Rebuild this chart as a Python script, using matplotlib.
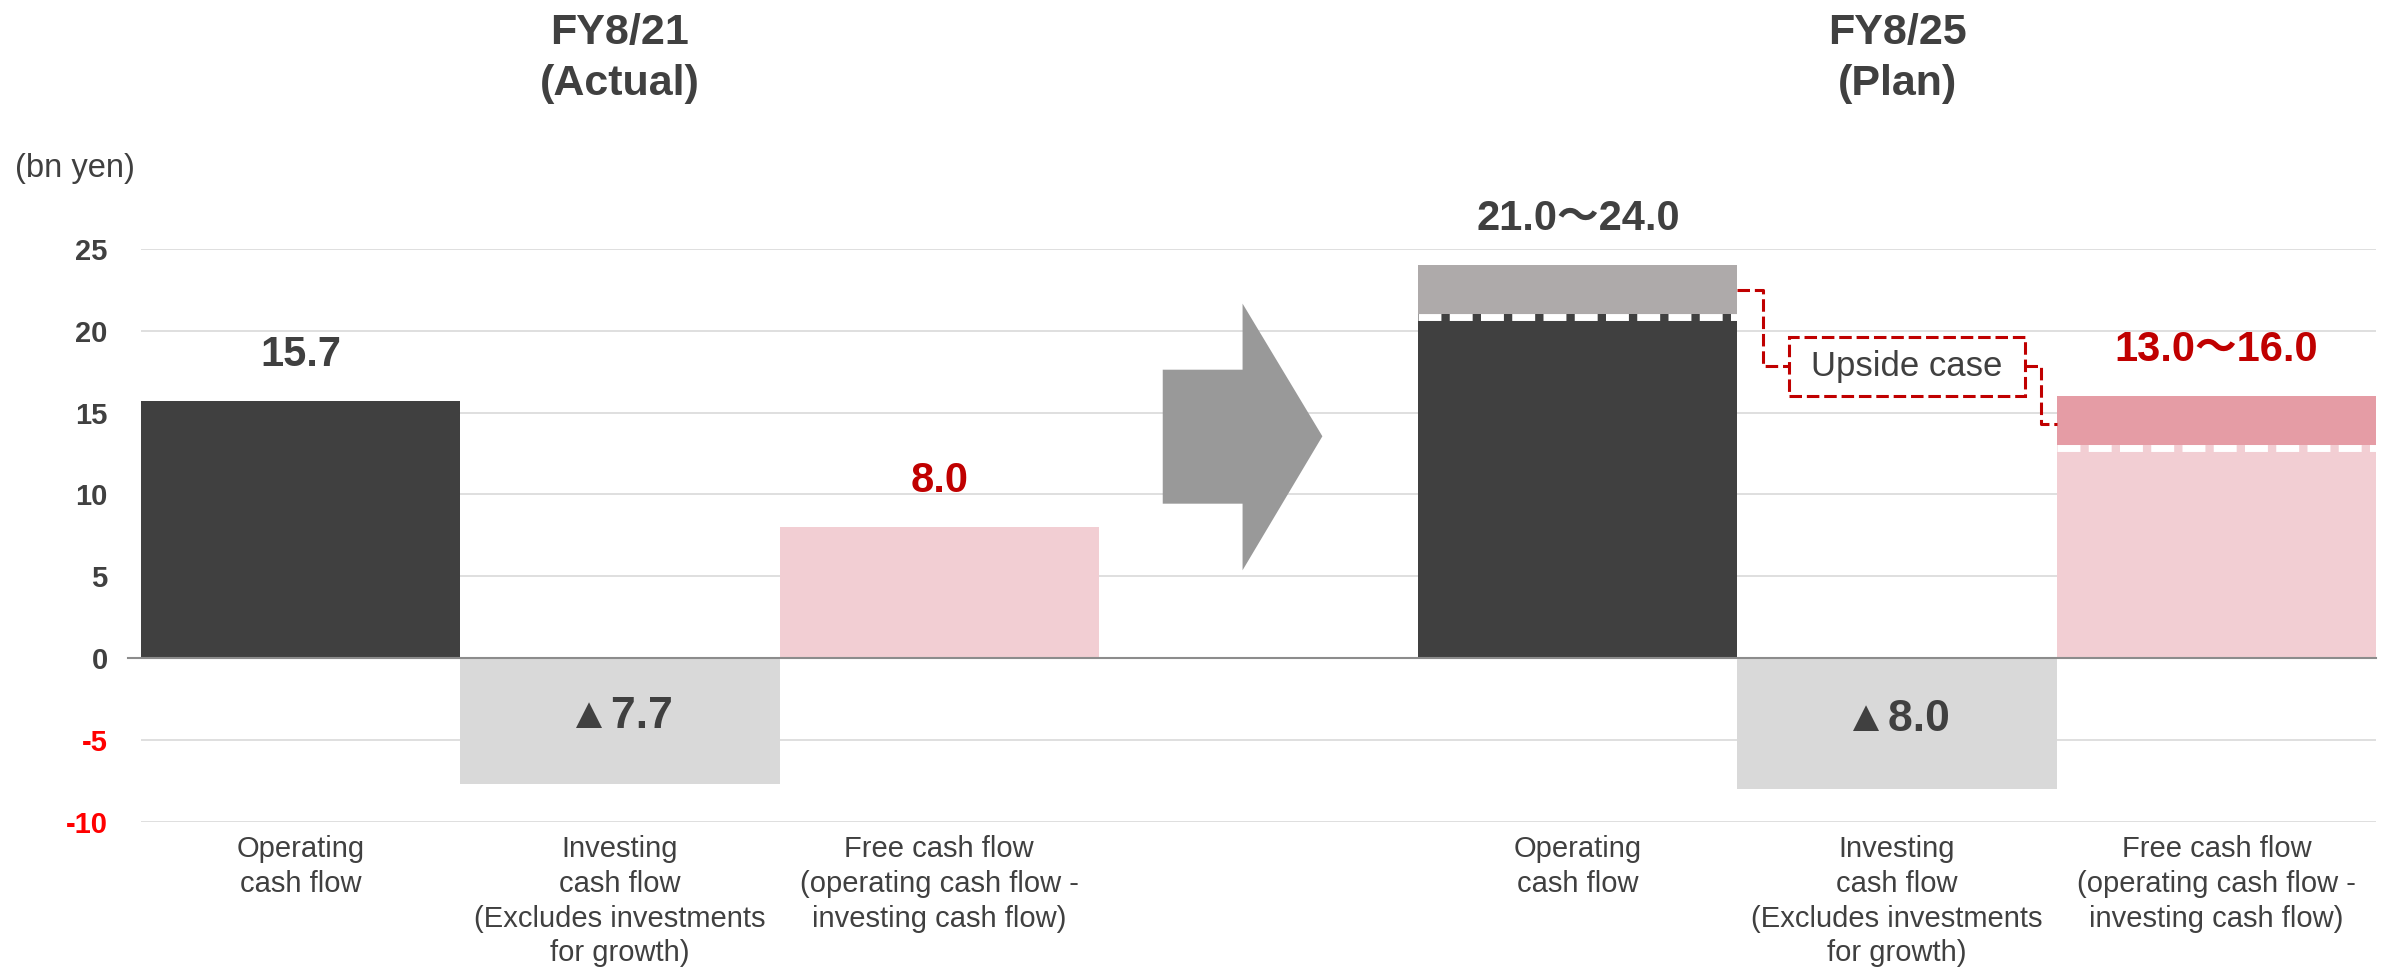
import matplotlib
matplotlib.use("Agg")
import matplotlib.pyplot as plt
from matplotlib.patches import Polygon, Rectangle
import matplotlib.transforms as mtransforms

plt.rcParams['font.family'] = ['Liberation Sans', 'Noto Sans CJK JP', 'DejaVu Sans']
plt.rcParams['lines.scale_dashes'] = False

# ---------------- data ----------------
periods = ["FY8/21\n(Actual)", "FY8/25\n(Plan)"]
categories = ["Operating\ncash flow",
              "Investing\ncash flow\n(Excludes investments\nfor growth)",
              "Free cash flow\n(operating cash flow -\ninvesting cash flow)"]
actual_values = [15.7, -7.7, 8.0]
plan_low = [21.0, -8.0, 13.0]
plan_high = [24.0, -8.0, 16.0]
actual_labels = ["15.7", "▲7.7", "8.0"]
plan_labels = ["21.0～24.0", "▲8.0", "13.0～16.0"]
yticks = [-10, -5, 0, 5, 10, 15, 20, 25]
unit_label = "(bn yen)"
upside_label = "Upside case"

# ---------------- style ----------------
DARK = "#404040"
GRAY = "#d9d9d9"
PINK = "#f2ced3"
DARK_TOP = "#aeaaaa"
PINK_TOP = "#e59ca5"
RED = "#c00000"
NEG_TICK = "#ff0000"
fill_low = [DARK, GRAY, PINK]
fill_high = [DARK_TOP, GRAY, PINK_TOP]
label_colors = [DARK, DARK, RED]

fig = plt.figure(figsize=(24.02, 9.68), dpi=100)
ax = fig.add_axes([0.0587, 0.1513, 0.9305, 0.5915])
ax.set_xlim(-0.5, 6.5)
ax.set_ylim(-10, 25)
for s in ax.spines.values():
    s.set_visible(False)

# gridlines
for t in yticks:
    if t != 0:
        ax.axhline(t, color="#d9d9d9", lw=1.2, zorder=0)

x_actual = [0, 1, 2]
x_plan = [4, 5, 6]

# actual bars
ax.bar(x_actual, actual_values, width=1.0, color=fill_low, zorder=2)
# plan bars (low part + upside range)
ax.bar(x_plan, plan_low, width=1.0, color=fill_low, zorder=2)
ranges = [h - l for h, l in zip(plan_high, plan_low)]
ax.bar(x_plan, ranges, bottom=plan_low, width=1.0, color=fill_high, zorder=2)

# white dashed boundary lines for ranges
for x, lo, hi in zip(x_plan, plan_low, plan_high):
    if hi > lo:
        ax.plot([x - 0.5, x + 0.5], [lo - 0.15, lo - 0.15], color="white", lw=5,
                dashes=(16.5, 6), zorder=3, solid_capstyle='butt', dash_capstyle='butt')

# zero line
ax.plot([-0.54, 6.5], [0, 0], color="#8c8c8c", lw=1.5, zorder=4, clip_on=False)

# value labels
def put_label(x, v, text, color, top):
    if v >= 0:
        ax.annotate(text, (x, top), xytext=(0, 33), textcoords="offset points",
                    ha="center", va="center", fontsize=30, fontweight="bold",
                    color=color, zorder=5, annotation_clip=False)
    else:
        ax.annotate(text, (x, v / 2), xytext=(0, 3), textcoords="offset points",
                    ha="center", va="center", fontsize=32, fontweight="bold",
                    color=color, zorder=5, annotation_clip=False)

for x, v, t, c in zip(x_actual, actual_values, actual_labels, label_colors):
    put_label(x, v, t, c, v)
for x, v, h, t, c in zip(x_plan, plan_low, plan_high, plan_labels, label_colors):
    put_label(x, v, t, c, h)

# category labels
for xs in (x_actual, x_plan):
    for x, cat in zip(xs, categories):
        ax.annotate(cat, (x, -10), xytext=(0, -10), textcoords="offset points",
                    ha="center", va="top", fontsize=21, color=DARK,
                    linespacing=1.3, annotation_clip=False)

# period titles
trans = mtransforms.blended_transform_factory(ax.transData, fig.transFigure)
for x, p in zip([x_actual[1], x_plan[1]], periods):
    ax.text(x, 0.9396, p, transform=trans, ha="center", va="center",
            fontsize=31, fontweight="bold", color=DARK, linespacing=1.35)

# unit label
fig.text(0.0062, 0.8264, unit_label, ha="left", va="center", fontsize=23.5, color=DARK)

# y ticks
ax.set_yticks(yticks)
ax.set_yticklabels([str(t) for t in yticks])
ax.tick_params(axis="y", length=0, pad=24, labelsize=21)
ax.tick_params(axis="x", length=0, labelbottom=False)
for lab, t in zip(ax.get_yticklabels(), yticks):
    lab.set_fontweight("bold")
    lab.set_color(NEG_TICK if t < 0 else DARK)

# big arrow between periods
arrow = Polygon([(2.70, 17.62), (2.95, 17.62), (2.95, 21.66), (3.20, 13.55),
                 (2.95, 5.36), (2.95, 9.43), (2.70, 9.43)],
                closed=True, facecolor="#999999", edgecolor="none", zorder=3)
ax.add_patch(arrow)

# upside case connector + box
y_op_mid = (plan_low[0] + plan_high[0]) / 2
y_fcf_mid = (plan_low[2] + plan_high[2]) / 2 - 0.2
y_box_mid = 17.85
dash = (9, 3.5)
ax.plot([4.5, 4.58, 4.58, 4.66], [y_op_mid, y_op_mid, y_box_mid, y_box_mid],
        color=RED, lw=2.2, dashes=dash, zorder=4, clip_on=False)
ax.plot([5.40, 5.45, 5.45, 5.5], [y_box_mid, y_box_mid, y_fcf_mid, y_fcf_mid],
        color=RED, lw=2.2, dashes=dash, zorder=4, clip_on=False)
box = Rectangle((4.66, 16.0), 0.74, 3.6, facecolor="white", edgecolor=RED,
                lw=2.2, linestyle=(0, dash), zorder=4)
ax.add_patch(box)
ax.text(5.03, 17.8, upside_label, ha="center", va="center", fontsize=25,
        color=DARK, zorder=5)

fig.savefig("out.png", dpi=100)
